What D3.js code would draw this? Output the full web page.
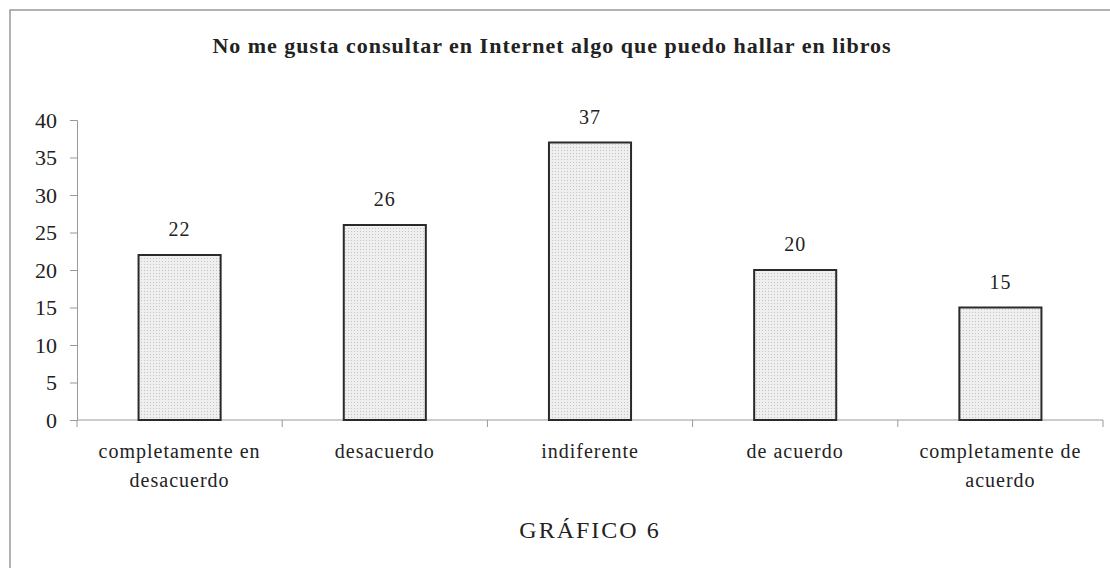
<!DOCTYPE html>
<html>
<head>
<meta charset="utf-8">
<title>GRÁFICO 6</title>
<script src="https://cdn.jsdelivr.net/npm/d3@7/dist/d3.min.js"></script>
<style>
  body { margin: 0; background: #fff; }
  text { font-family: "Liberation Serif", "DejaVu Serif", serif; fill: #222; }
</style>
</head>
<body>
<script>
var categories = [["completamente en", "desacuerdo"], ["desacuerdo"], ["indiferente"], ["de acuerdo"], ["completamente de", "acuerdo"]];
var values = [22, 26, 37, 20, 15];
var yTicks = [0, 5, 10, 15, 20, 25, 30, 35, 40];
var title = "No me gusta consultar en Internet algo que puedo hallar en libros";
var caption = "GRÁFICO 6";

var W = 1110, H = 568;
var svg = d3.select("body").append("svg").attr("width", W).attr("height", H);

// dotted fill like the scanned bars
var defs = svg.append("defs");
var pat = defs.append("pattern").attr("id", "dots").attr("width", 3).attr("height", 3)
    .attr("patternUnits", "userSpaceOnUse");
pat.append("rect").attr("width", 3).attr("height", 3).attr("fill", "#efefef");
pat.append("rect").attr("width", 1).attr("height", 1).attr("fill", "#c4c4c4");

// outer border (cut off at right and bottom)
svg.append("rect").attr("x", 10).attr("y", 10).attr("width", 1120).attr("height", 600)
    .attr("fill", "none").attr("stroke", "#999").attr("stroke-width", 1.5);

var pLeft = 77, pRight = 1103, pTop = 120, pBottom = 420;

var xb = d3.scaleBand().domain(d3.range(values.length)).range([pLeft, pRight]);
var y = d3.scaleLinear().domain([0, 40]).range([pBottom, pTop]);
var barW = xb.bandwidth() * 0.4;

svg.append("text").attr("x", 552).attr("y", 53).attr("text-anchor", "middle")
    .style("font-weight", "bold").style("font-size", "22px").style("letter-spacing", "1px").text(title);

// y axis
var yAxis = svg.append("g").attr("transform", "translate(" + pLeft + ",0)")
    .call(d3.axisLeft(y).tickValues(yTicks).tickSize(7).tickPadding(13));
yAxis.selectAll("text").style("font-size", "22px").style("font-family", "Liberation Serif, serif").attr("fill", "#222");
yAxis.selectAll("line, path").attr("stroke", "#999");

// x axis, ticks between categories
var xAxis = svg.append("g").attr("transform", "translate(0," + pBottom + ")");
xAxis.append("line").attr("x1", pLeft).attr("x2", pRight).attr("stroke", "#999");
xAxis.selectAll(".sep").data(d3.range(values.length + 1)).enter().append("line")
    .attr("x1", function (d) { return pLeft + d * xb.step(); })
    .attr("x2", function (d) { return pLeft + d * xb.step(); })
    .attr("y1", 0).attr("y2", 7).attr("stroke", "#999");

svg.selectAll(".bar").data(values).enter().append("rect")
    .attr("x", function (d, i) { return xb(i) + xb.bandwidth() / 2 - barW / 2; })
    .attr("width", barW)
    .attr("y", function (d) { return y(d); })
    .attr("height", function (d) { return pBottom - y(d); })
    .attr("fill", "url(#dots)").attr("stroke", "#2a2a2a").attr("stroke-width", 2);

svg.selectAll(".val").data(values).enter().append("text")
    .attr("x", function (d, i) { return xb(i) + xb.bandwidth() / 2; })
    .attr("y", function (d) { return y(d) - 19; })
    .attr("text-anchor", "middle").style("font-size", "20px").style("letter-spacing", "1px")
    .text(function (d) { return d; });

var cat = svg.selectAll(".cat").data(categories).enter().append("text")
    .attr("text-anchor", "middle").style("font-size", "20px").style("letter-spacing", "1px");
cat.selectAll("tspan").data(function (d, i) { return d.map(function (t) { return { t: t, i: i }; }); })
    .enter().append("tspan")
    .attr("x", function (d) { return xb(d.i) + xb.bandwidth() / 2; })
    .attr("y", function (d, j) { return 458 + j * 29; })
    .text(function (d) { return d.t; });

svg.append("text").attr("x", 590).attr("y", 538).attr("text-anchor", "middle")
    .style("font-size", "24px").style("letter-spacing", "2px").text(caption);
</script>
</body>
</html>
